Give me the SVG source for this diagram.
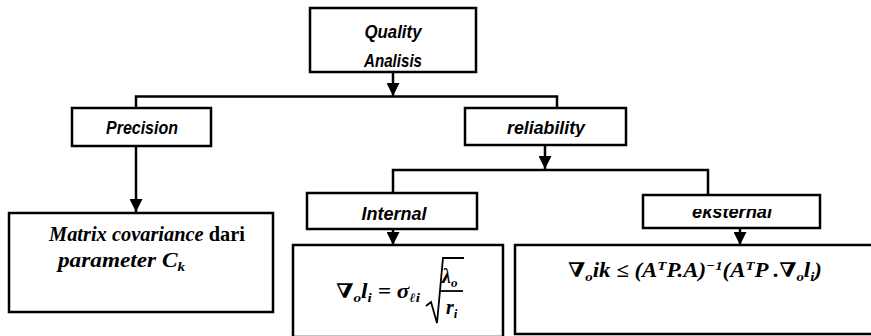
<svg xmlns="http://www.w3.org/2000/svg" width="871" height="336" viewBox="0 0 871 336">
<style>
.box{fill:#fff;stroke:#000;stroke-width:2.5}
.ln{fill:none;stroke:#000;stroke-width:2.5}
.thin{fill:none;stroke:#000;stroke-width:1.8}
.lbl{font-family:"Liberation Sans",Arial,sans-serif;font-weight:bold;font-style:italic;font-size:18px;text-anchor:middle;fill:#000}
.ser{font-family:"Liberation Serif","DejaVu Serif",serif;font-weight:bold;font-style:italic;font-size:20px;fill:#000}
.up{font-style:normal}
.math{font-family:"Liberation Serif","DejaVu Serif",serif;font-weight:bold;font-style:italic;font-size:20px;fill:#000}
.sb{font-size:13px}
</style>
<defs>
<marker id="arr" viewBox="0 0 10 10" refX="10" refY="5" markerWidth="13" markerHeight="13" markerUnits="userSpaceOnUse" orient="auto">
<path d="M0,0 L10,5 L0,10 z" fill="#000"/>
</marker>
<clipPath id="clipRel"><rect x="460" y="108" width="170" height="29"/></clipPath>
<clipPath id="clipEks"><rect x="640" y="209" width="185" height="20"/></clipPath>
</defs>

<g id="connectors">
<path class="ln" d="M393,73 V96" marker-end="url(#arr)"/>
<path class="ln" d="M136,108 V96.5 H557 V108"/>
<path class="ln" d="M136,146 V212" marker-end="url(#arr)"/>
<path class="ln" d="M545,145 V169" marker-end="url(#arr)"/>
<path class="ln" d="M393,193 V170 H708 V195"/>
<path class="ln" d="M393,229 V245" marker-end="url(#arr)"/>
<path class="ln" d="M740,228 V245" marker-end="url(#arr)"/>
</g>

<g id="quality">
<rect class="box" x="310" y="8" width="166" height="64"/>
<text class="lbl" x="393" y="38" textLength="57" lengthAdjust="spacingAndGlyphs">Quality</text>
<text class="lbl" x="393" y="67" textLength="58" lengthAdjust="spacingAndGlyphs">Analisis</text>
</g>

<g id="precision">
<rect class="box" x="72" y="108" width="139" height="38"/>
<text class="lbl" x="142" y="134" textLength="72" lengthAdjust="spacingAndGlyphs">Precision</text>
</g>

<g id="reliability">
<rect class="box" x="465" y="108" width="161" height="37"/>
<text class="lbl" x="546" y="134" textLength="78" lengthAdjust="spacingAndGlyphs" clip-path="url(#clipRel)">reliability</text>
</g>

<g id="matrix">
<rect class="box" x="9" y="213" width="264" height="99"/>
<text class="ser" x="49" y="241" textLength="196" lengthAdjust="spacingAndGlyphs">Matrix covariance <tspan class="up">dari</tspan></text>
<text class="ser" x="58" y="267" textLength="127" lengthAdjust="spacingAndGlyphs">parameter C<tspan class="sb" dy="4">k</tspan></text>
</g>

<g id="internal">
<rect class="box" x="307" y="193" width="170" height="36"/>
<text class="lbl" x="394" y="220" textLength="65" lengthAdjust="spacingAndGlyphs">Internal</text>
</g>

<g id="eksternal">
<rect class="box" x="643" y="195" width="177" height="33"/>
<text class="lbl" x="732" y="218" textLength="80" lengthAdjust="spacingAndGlyphs" clip-path="url(#clipEks)">eksternal</text>
</g>

<g id="internal-formula">
<rect class="box" x="293" y="245" width="210" height="92"/>
<text class="math" x="336" y="298" textLength="84" lengthAdjust="spacingAndGlyphs">∇<tspan class="sb" dy="4">o</tspan><tspan dy="-4">l</tspan><tspan class="sb" dy="4">i</tspan><tspan dy="-4"> = σ</tspan><tspan class="sb" dy="4">ℓi</tspan></text>
<path class="thin" d="M426,306 L431,302 L437,323 L443,258 H464"/>
<text class="math" x="442" y="283">λ<tspan class="sb" dy="4">o</tspan></text>
<path class="thin" d="M440,291 H463"/>
<text class="math" x="446" y="314">r<tspan class="sb" dy="4">i</tspan></text>
</g>

<g id="eksternal-formula">
<rect class="box" x="515" y="245" width="370" height="89"/>
<text class="math" x="568" y="277" textLength="254" lengthAdjust="spacingAndGlyphs">∇<tspan class="sb" dy="4">o</tspan><tspan dy="-4">ik ≤ (A</tspan><tspan class="sb" dy="-7">T</tspan><tspan dy="7">P.A)</tspan><tspan class="sb" dy="-7">−1</tspan><tspan dy="7">(A</tspan><tspan class="sb" dy="-7">T</tspan><tspan dy="7">P .∇</tspan><tspan class="sb" dy="4">o</tspan><tspan dy="-4">l</tspan><tspan class="sb" dy="4">i</tspan><tspan dy="-4">)</tspan></text>
</g>
</svg>
